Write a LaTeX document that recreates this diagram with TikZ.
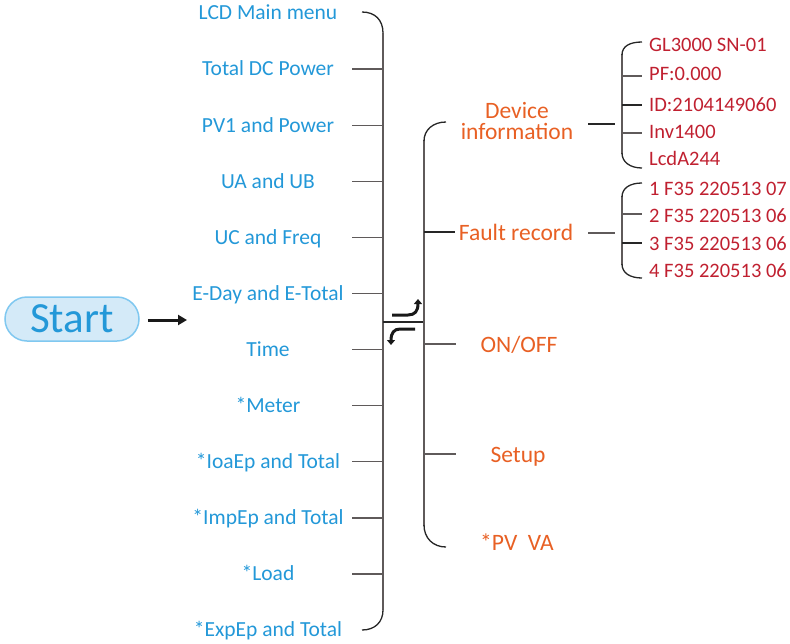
\documentclass[tikz,border=0pt]{standalone}
\usepackage{fontspec}
\setmainfont{Carlito}
\usetikzlibrary{arrows.meta}
\definecolor{tblue}{RGB}{35,152,216}
\definecolor{torange}{RGB}{232,96,36}
\definecolor{tred}{RGB}{192,32,48}
\definecolor{lgray}{RGB}{95,90,90}
\definecolor{pillfill}{RGB}{212,234,248}
\definecolor{pilldraw}{RGB}{128,200,240}
\tikzset{
  blueitem/.style={text=tblue, font=\fontsize{21.5}{24}\selectfont, inner sep=0pt, text height=13.6pt, text depth=0pt, anchor=center},
  oritem/.style={text=torange, font=\fontsize{23.5}{21}\selectfont, inner sep=0pt, text height=14.9pt, text depth=0pt, anchor=center, align=center},
  reditem/.style={text=tred, font=\fontsize{20.5}{24}\selectfont, inner sep=0pt, text height=13pt, text depth=0pt, anchor=west},
  brk/.style={draw=lgray, line width=1.3pt},
  darkbrk/.style={draw=black!85, line width=1.3pt},
  fatarrow/.style={draw=black!90, line width=3pt}
}
\begin{document}
\begin{tikzpicture}[x=1pt,y=-1pt]
\useasboundingbox (0,0) rectangle (790,643);
% Start
\node[draw=pilldraw, line width=1.5pt, fill=pillfill, rounded corners=22pt, minimum width=134pt, minimum height=44pt, inner sep=0pt] (start) at (72,319) {};
\node[text=tblue, font=\fontsize{43}{46}\selectfont, inner sep=0pt, text height=27.5pt, text depth=0pt] (starttxt) at (72,319) {Start};
\coordinate (arrend) at (187,320);
\draw[fatarrow, -{Triangle[length=9pt,width=10pt]}] (start.east)++(8,1) -- (arrend);
% left items
\foreach \t [count=\i] in {LCD Main menu,Total DC Power,PV1 and Power,UA and UB,UC and Freq,E-Day and E-Total,Time,*Meter,*IoaEp and Total,*ImpEp and Total,*Load,*ExpEp and Total}{
  \pgfmathsetmacro{\yy}{13+(\i-1)*56.1}
  \node[blueitem] (l\i) at (268,\yy) {\t};
}
% left bracket
\draw[brk] (383,33) -- (383,610);
\draw[darkbrk] (362,12) .. controls (375,12) and (383,20) .. (383,33);
\draw[darkbrk] (383,610) .. controls (383,622) and (375,630) .. (362,630);
\foreach \i in {2,...,11}{
  \draw[brk] (352,0 |- l\i) -- (383,0 |- l\i);
}
% centre
\draw[draw=black!85, line width=2pt] (383,321.5) -- (424,321.5);
\draw[fatarrow, -{Triangle[length=5pt,width=8pt]}] (392,315) -- (408,315) .. controls (415,315) and (418,311) .. (418,299);
\draw[fatarrow, -{Triangle[length=5pt,width=8pt]}] (415,329) -- (400,329) .. controls (394,329) and (391,333) .. (391,345);
% right items
\node[oritem] (dev) at (517,132) {Device\\information};
\node[oritem] (fault) at (516,233) {Fault record};
\node[oritem] (onoff) at (519,345) {ON/OFF};
\node[oritem] (setup) at (518,455) {Setup};
\node[oritem] (pvva) at (517,543) {*PV\ \ VA};
% right bracket
\draw[brk] (424,140) -- (424,526);
\draw[darkbrk] (446,122) .. controls (433,122) and (424,130) .. (424,141);
\draw[darkbrk] (424,525) .. controls (424,538) and (433,547) .. (446,547);
\draw[darkbrk] (424,232) -- (455,232);
\draw[brk] (424,344) -- (456,344);
\draw[brk] (424,454) -- (456,454);
% device info sub-items
\node[reditem] (d1) at (649,45) {GL3000 SN-01};
\node[reditem] (d2) at (649,74) {PF:0.000};
\node[reditem] (d3) at (649,105) {ID:2104149060};
\node[reditem] (d4) at (649,132) {Inv1400};
\node[reditem] (d5) at (649,159) {LcdA244};
\draw[darkbrk] (588,124) -- (615,124);
\draw[brk] (622,54) -- (622,154);
\draw[darkbrk] (642,42) .. controls (630,42) and (622,46) .. (622,55);
\draw[darkbrk] (622,153) .. controls (622,162) and (630,168) .. (642,168);
\draw[brk] (622,76) -- (642,76);
\draw[darkbrk] (622,105) -- (642,105);
\draw[brk] (622,133) -- (642,133);
% fault sub-items
\node[reditem] (f1) at (649,189) {1 F35 220513 07};
\node[reditem] (f2) at (649,216) {2 F35 220513 06};
\node[reditem] (f3) at (649,244) {3 F35 220513 06};
\node[reditem] (f4) at (649,271) {4 F35 220513 06};
\draw[brk] (588,233) -- (615,233);
\draw[brk] (622,196) -- (622,265);
\draw[darkbrk] (642,183) .. controls (630,183) and (622,188) .. (622,197);
\draw[darkbrk] (622,264) .. controls (622,273) and (630,278) .. (642,278);
\draw[brk] (622,214) -- (642,214);
\draw[darkbrk] (622,243) -- (642,243);
\end{tikzpicture}
\end{document}
